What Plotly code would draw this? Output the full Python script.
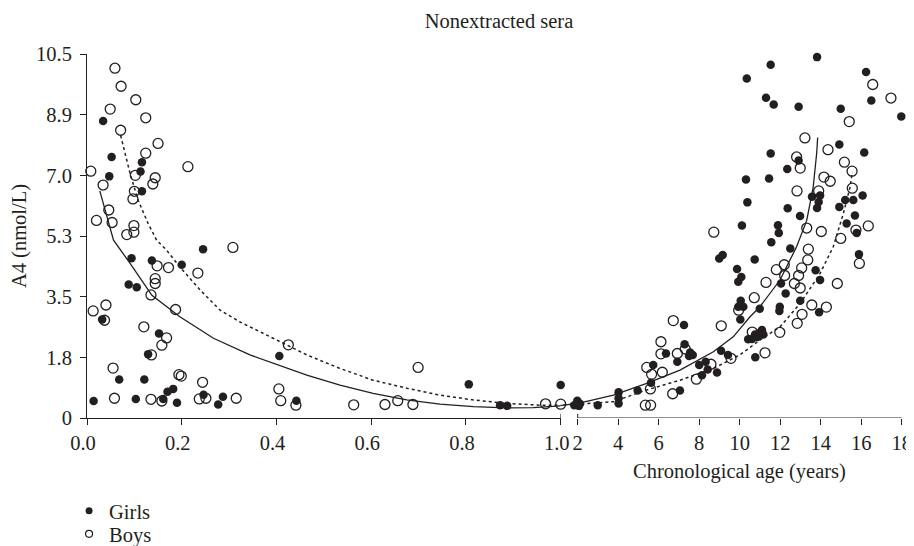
import plotly.graph_objects as go

# ---------------- data (age in years, A4 in nmol/L) ----------------
girls_age = [0.034, 0.052, 0.116, 0.113, 0.047, 0.116,
             0.245, 0.094, 0.137, 0.200, 0.088, 0.105, 0.032, 0.152, 0.129, 0.068, 0.121,
             0.014, 0.103, 0.161, 0.170, 0.182, 0.190, 0.246, 0.277, 0.287,
             0.406, 0.442, 0.806, 0.872, 0.887, 1.0,
             1.83, 1.98, 2.06,
             10.35, 10.31, 10.38, 10.11, 8.99, 9.16, 9.87, 10.08, 9.93, 10.05, 9.93, 10.18, 10.03,
             7.25, 7.28, 6.36, 7.55, 7.68, 6.92, 7.50, 5.73, 5.62, 8.00, 8.32, 8.42, 8.88, 8.14,
             9.08, 9.42, 7.05, 4.96, 4.02, 4.02, 4.02, 2.99, 2.11, 10.42,
             13.82, 11.53, 16.24, 11.30, 11.68, 12.91, 14.99, 16.50, 17.98, 14.92, 16.15, 11.53,
             12.91, 12.35, 11.45, 13.57, 13.97, 13.90, 13.82, 14.92, 15.21, 15.61, 16.07, 12.37,
             12.98, 15.69, 15.28, 11.89, 11.93, 15.78, 11.56, 12.50, 15.89, 10.74, 13.75, 13.97,
             12.04, 12.27, 12.99, 10.99, 11.98, 11.96, 13.92,
             10.61, 10.76, 10.87, 11.00, 11.10, 11.17, 10.77]
girls_a4 = [8.57, 7.53, 7.38, 7.11, 6.97, 6.54,
            4.87, 4.61, 4.54, 4.42, 3.85, 3.77, 2.84, 2.44, 1.84, 1.11, 1.11,
            0.49, 0.55, 0.55, 0.76, 0.84, 0.44, 0.67, 0.39, 0.61,
            1.79, 0.50, 0.97, 0.37, 0.35, 0.95,
            0.37, 0.50, 0.35,
            9.79, 6.88, 6.22, 5.55, 4.60, 4.70, 4.30, 4.07, 3.93, 3.38, 3.21, 3.21, 2.84,
            2.68, 2.13, 1.86, 1.89, 1.82, 1.62, 1.79, 1.53, 1.02, 1.53, 1.62, 1.40, 1.31, 1.23,
            1.94, 1.82, 0.79, 0.79, 0.74, 0.57, 0.42, 0.37, 0.41, 2.27,
            10.41, 10.19, 9.98, 9.24, 9.04, 8.98, 8.92, 9.16, 8.70, 7.89, 7.66, 7.63,
            7.43, 7.18, 6.91, 6.38, 6.42, 6.23, 6.06, 6.09, 6.29, 6.29, 6.42, 6.05,
            5.83, 5.84, 5.61, 5.56, 5.34, 5.34, 5.07, 4.89, 4.72, 4.57, 4.26, 3.98,
            3.88, 3.59, 3.38, 3.15, 3.21, 3.09, 3.05,
            2.28, 2.41, 2.34, 2.46, 2.54, 2.41, 1.75]

boys_age = [0.059, 0.072, 0.103, 0.049, 0.124, 0.071, 0.150, 0.124, 0.008, 0.213, 0.102,
            0.144, 0.034, 0.139, 0.100, 0.097, 0.046, 0.020, 0.053, 0.099, 0.099, 0.084,
            0.308, 0.148, 0.172, 0.144, 0.144, 0.234, 0.135, 0.187, 0.013, 0.040, 0.037,
            0.120, 0.168, 0.158, 0.136, 0.055, 0.194, 0.199, 0.244, 0.058, 0.135, 0.158,
            0.237, 0.251, 0.315,
            0.425, 0.405, 0.409, 0.441, 0.699, 0.563, 0.629, 0.656, 0.688, 0.968, 1.0,
            8.72, 6.72, 9.09, 9.95, 6.11, 6.11, 6.92, 7.31, 5.41, 5.65, 6.18, 5.59, 6.69,
            7.86, 8.58, 9.57, 5.34, 5.60,
            16.57, 17.47, 15.41, 13.22, 14.36, 12.81, 12.99, 15.17, 15.55, 14.16, 14.47,
            12.83, 13.90, 15.56, 13.31, 14.03, 14.99, 16.35, 15.74, 13.39, 13.36, 12.20,
            11.81, 12.22, 13.06, 12.91, 11.30, 12.70, 12.99, 14.82, 15.91, 10.72, 13.56,
            14.28, 13.08, 12.84, 11.98, 10.62, 11.25]
boys_a4 = [10.09, 9.57, 9.18, 8.91, 8.66, 8.30, 7.92, 7.64, 7.12, 7.25, 7.00,
           6.93, 6.72, 6.75, 6.54, 6.32, 6.00, 5.70, 5.64, 5.55, 5.36, 5.29,
           4.92, 4.39, 4.34, 4.02, 3.88, 4.18, 3.55, 3.13, 3.09, 3.26, 2.82,
           2.63, 2.31, 2.10, 1.82, 1.44, 1.25, 1.21, 1.03, 0.57, 0.54, 0.49,
           0.55, 0.57, 0.57,
           2.11, 0.84, 0.50, 0.37, 1.46, 0.38, 0.39, 0.50, 0.39, 0.41, 0.40,
           5.36, 2.81, 2.66, 3.11, 2.20, 1.85, 1.86, 1.99, 1.46, 1.26, 1.32, 0.84, 0.70,
           1.12, 1.55, 1.72, 0.37, 0.37,
           9.62, 9.23, 8.55, 8.08, 7.74, 7.53, 7.21, 7.38, 7.12, 6.95, 6.83,
           6.55, 6.55, 6.63, 5.48, 5.38, 5.18, 5.54, 5.42, 4.87, 4.56, 4.42,
           4.28, 4.11, 4.33, 4.11, 3.91, 3.88, 3.75, 3.88, 4.46, 3.47, 3.26,
           3.20, 2.99, 2.73, 2.47, 2.48, 1.88]

# fitted curves (solid = girls, dotted = boys)
girls_fit_age = [0.027, 0.038, 0.056, 0.091, 0.137, 0.196, 0.267, 0.344, 0.393, 0.464,
                 0.534, 0.604, 0.675, 0.745, 0.816, 0.886, 0.942, 1.0,
                 1.98, 2.61, 3.76, 5.41, 7.05, 8.70, 9.68, 10.51, 11.00, 11.99, 12.81,
                 13.31, 13.63, 13.80, 13.85]
girls_fit_a4 = [6.55, 5.99, 5.13, 4.46, 3.54, 2.92, 2.30, 1.82, 1.59, 1.24,
                0.95, 0.71, 0.52, 0.40, 0.33, 0.29, 0.30, 0.35,
                0.42, 0.50, 0.66, 1.00, 1.38, 1.91, 2.34, 2.92, 3.21, 3.98, 4.94,
                5.70, 6.66, 7.63, 8.09]
boys_fit_age = [0.071, 0.091, 0.108, 0.129, 0.147, 0.168, 0.196, 0.239, 0.281, 0.323,
                0.393, 0.464, 0.534, 0.604, 0.675, 0.745, 0.816, 0.886, 0.956, 1.0,
                2.11, 3.76, 5.41, 7.05, 8.70, 10.01, 11.00, 11.99, 12.98, 13.97, 14.62,
                15.12, 15.45, 15.56]
boys_fit_a4 = [8.15, 7.05, 6.28, 5.61, 5.13, 4.84, 4.36, 3.69, 3.11, 2.77,
               2.30, 1.82, 1.43, 1.09, 0.86, 0.66, 0.52, 0.42, 0.37, 0.37,
               0.40, 0.47, 0.81, 1.09, 1.43, 1.82, 2.25, 2.63, 3.30, 4.17, 4.94,
               5.90, 6.66, 7.10]

infant_ticks = [0.0, 0.2, 0.4, 0.6, 0.8, 1.0]
infant_ticktext = ["0.0", "0.2", "0.4", "0.6", "0.8", "1.0"]
child_ticks = [2, 4, 6, 8, 10, 12, 14, 16, 18]
child_ticktext = ["2", "4", "6", "8", "10", "12", "14", "16", "18"]
y_tickvals = [0, 1.75, 3.5, 5.25, 7.0, 8.75, 10.5]
y_ticktext = ["0", "1.8", "3.5", "5.3", "7.0", "8.9", "10.5"]

INK = "#231f20"
FONT = "Liberation Serif"
FS = 20.5

# the page body adds an 8 px offset; the figure is sized so it fills the window
OFF = 8
W, H = 914 - OFF, 546 - OFF


def split(ages, vals, lo, hi):
    xs, ys = [], []
    for a, v in zip(ages, vals):
        if lo <= a <= hi:
            xs.append(a)
            ys.append(v)
    return xs, ys


fig = go.Figure()

panels = [("x", "y", 0.0, 1.0), ("x2", "y2", 1.0001, 100.0)]
for xa, ya, lo, hi in panels:
    clo = 0.0 if xa == "x" else 1.0
    cx, cy = split(girls_fit_age, girls_fit_a4, clo, hi)
    fig.add_trace(go.Scatter(x=cx, y=cy, mode="lines", xaxis=xa, yaxis=ya,
                             line=dict(color=INK, width=1.3), showlegend=False,
                             hoverinfo="skip"))
    cx, cy = split(boys_fit_age, boys_fit_a4, clo, hi)
    fig.add_trace(go.Scatter(x=cx, y=cy, mode="lines", xaxis=xa, yaxis=ya,
                             line=dict(color=INK, width=1.5, dash="dot"), showlegend=False,
                             hoverinfo="skip"))
    gx, gy = split(girls_age, girls_a4, lo, hi)
    fig.add_trace(go.Scatter(x=gx, y=gy, mode="markers", xaxis=xa, yaxis=ya,
                             marker=dict(symbol="circle", size=8.5, color=INK),
                             cliponaxis=False, showlegend=False, name="Girls"))
    bx, by = split(boys_age, boys_a4, lo, hi)
    fig.add_trace(go.Scatter(x=bx, y=by, mode="markers", xaxis=xa, yaxis=ya,
                             marker=dict(symbol="circle-open", size=10, color=INK,
                                         line=dict(width=1.3, color=INK)),
                             cliponaxis=False, showlegend=False, name="Boys"))

# legend entries (one legend box each so their spacing can be matched)
fig.add_trace(go.Scatter(x=[None], y=[None], mode="markers", name="Girls", legend="legend",
                         marker=dict(symbol="circle", size=7, color=INK)))
fig.add_trace(go.Scatter(x=[None], y=[None], mode="markers", name="Boys", legend="legend2",
                         marker=dict(symbol="circle-open", size=7, color=INK,
                                     line=dict(width=1.2, color=INK))))

D1 = (560.7 - 87) / 815.0
PH = 364.0  # plot height in px
axis_common = dict(showgrid=False, zeroline=False, ticks="outside", ticklen=6,
                   tickwidth=1, tickcolor=INK, linecolor=INK, linewidth=1,
                   automargin=False,
                   tickfont=dict(family=FONT, size=FS, color=INK))

legend_common = dict(xanchor="left", yanchor="middle", bgcolor="rgba(0,0,0,0)",
                     font=dict(family=FONT, size=FS, color=INK), itemwidth=30)

fig.update_layout(
    width=W, height=H,
    margin=dict(l=87 - OFF, r=12, t=54 - OFF, b=H - (418 - OFF), autoexpand=False),
    paper_bgcolor="white", plot_bgcolor="white",
    font=dict(family=FONT, size=FS, color=INK),
    title=dict(text="Nonextracted sera", x=(499 - OFF) / W, xref="container",
               xanchor="center", y=1 - (21 - OFF) / H, yref="container", yanchor="middle",
               font=dict(family=FONT, size=FS, color=INK)),
    xaxis=dict(domain=[0, D1], range=[0, 1.0], tickvals=infant_ticks,
               ticktext=infant_ticktext, showline=True, anchor="y",
               ticklabelshift=-4, **axis_common),
    xaxis2=dict(domain=[D1, 1], range=[1.1605, 18.015], tickvals=child_ticks,
                ticktext=child_ticktext, showline=False, anchor="y2",
                **axis_common),
    yaxis=dict(domain=[0, 1], range=[0, 10.5], tickvals=y_tickvals, ticktext=y_ticktext,
               showline=True, anchor="x", ticklabelstandoff=4,
               title=dict(text="A4 (nmol/L)", standoff=10,
                          font=dict(family=FONT, size=FS, color=INK)),
               **axis_common),
    yaxis2=dict(domain=[0, 1], range=[0, 10.5], matches="y", anchor="x2", visible=False),
    showlegend=True,
    legend=dict(x=-0.022, y=-(511 - 418) / PH, **legend_common),
    legend2=dict(x=-0.022, y=-(534 - 418) / PH, **legend_common),
)

# x-axis title, centred under the 2–18 year part of the axis
fig.add_annotation(text="Chronological age (years)", xref="x2", x=10, yref="paper",
                   y=-(471 - 418) / PH, xanchor="center", yanchor="middle",
                   showarrow=False, font=dict(family=FONT, size=FS, color=INK))

# second axis line (starts at age 2) and the break marks
fig.add_shape(type="line", xref="x2", yref="y2", x0=2, x1=18, y0=0, y1=0,
              line=dict(color=INK, width=1))
fig.add_shape(type="line", xref="x", yref="y", x0=1.0, x1=1.0, y0=0, y1=0.12,
              line=dict(color=INK, width=1))
fig.add_shape(type="line", xref="x2", yref="y2", x0=2, x1=2, y0=0, y1=0.12,
              line=dict(color=INK, width=1))

fig.write_html("out.html")
